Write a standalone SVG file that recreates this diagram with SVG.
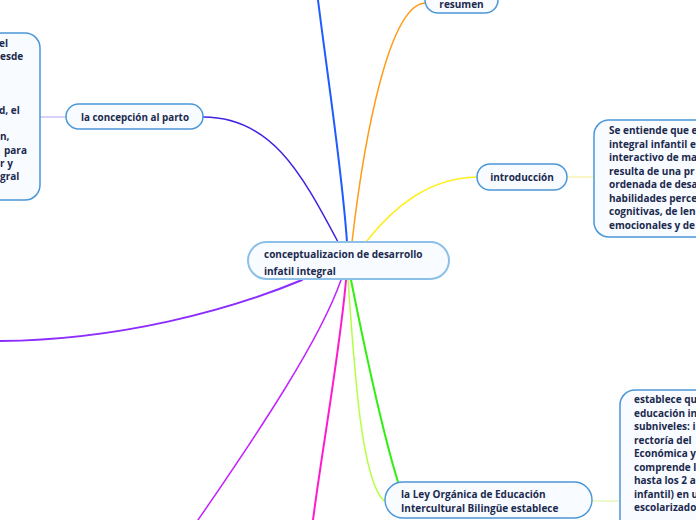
<svg xmlns="http://www.w3.org/2000/svg" width="696" height="520" viewBox="0 0 696 520">
<style>
.node{fill:#f8fbff;stroke:#4b97d6;stroke-width:1.5}
.main{fill:#f8fbff;stroke:#8cc0e8;stroke-width:2}
.t{font-family:"Open Sans","Noto Sans",sans-serif;font-weight:bold;font-size:10px;fill:#1b2a4e}
.c{fill:none;stroke-linecap:round}
</style>
<rect width="696" height="520" fill="#ffffff"/>
<g id="connectors">
<path class="c" d="M347,242 C342,170 328,80 318,0" stroke="#1f5cff" stroke-width="2"/>
<path class="c" d="M352,242 C365,130 390,5 425,3" stroke="#ff9c1a" stroke-width="1.5"/>
<path class="c" d="M366,242 C395,205 430,178 477,177" stroke="#ffee22" stroke-width="1.5"/>
<path class="c" d="M338,242 C300,170 270,117 203,117" stroke="#3d24e0" stroke-width="1.5"/>
<path class="c" d="M302,280 C230,310 120,340 0,341" stroke="#8c2cff" stroke-width="2"/>
<path class="c" d="M341,280 C320,340 260,430 198,520" stroke="#c222ff" stroke-width="1.5"/>
<path class="c" d="M346,280 C340,350 322,450 313,520" stroke="#ff1ad0" stroke-width="2"/>
<path class="c" d="M351,280 C365,350 385,440 398,482" stroke="#33ee11" stroke-width="2"/>
<path class="c" d="M348,280 C355,380 362,480 384,501" stroke="#b4ff44" stroke-width="1.5"/>
<path class="c" d="M40,117 L66,117" stroke="#b3a2f0" stroke-width="1"/>
<path class="c" d="M567,177 L594,177" stroke="#f3ef8a" stroke-width="1"/>
<path class="c" d="M592,501 L620,501" stroke="#d6f59a" stroke-width="1"/>
</g>
<g id="left-box">
<rect class="node" x="-200" y="33" width="240" height="167" rx="15"/>
<text class="t">
<tspan x="-1" y="47">el</tspan>
<tspan x="0" y="60.3">esde</tspan>
<tspan x="-1" y="113.6">d, el</tspan>
<tspan x="0" y="140.3">n,</tspan>
<tspan x="4" y="153.6">para</tspan>
<tspan x="0" y="167">r y</tspan>
<tspan x="0" y="180.3">gral</tspan>
</text>
</g>
<g id="concepcion">
<rect class="node" x="66" y="104" width="137" height="25" rx="12.5"/>
<text class="t" x="81" y="121" textLength="108" lengthAdjust="spacingAndGlyphs">la concepción al parto</text>
</g>
<g id="center">
<rect class="main" x="248" y="242" width="201" height="37" rx="18.5"/>
<text class="t"><tspan x="264" y="258">conceptualizacion de desarrollo</tspan><tspan x="264" y="275">infatil integral</tspan></text>
</g>
<g id="resumen">
<rect class="node" x="425" y="-14" width="73" height="27" rx="13"/>
<text class="t" x="461.5" y="8" text-anchor="middle">resumen</text>
</g>
<g id="introduccion">
<rect class="node" x="477" y="164" width="90" height="26" rx="13"/>
<text class="t" x="522" y="180.5" text-anchor="middle">introducción</text>
</g>
<g id="intro-box">
<rect class="node" x="594" y="120" width="300" height="117" rx="15"/>
<text class="t">
<tspan x="609" y="134">Se entiende que e</tspan>
<tspan x="609" y="147.5">integral infantil e</tspan>
<tspan x="609" y="161">interactivo de ma</tspan>
<tspan x="609" y="174.5">resulta de una pr</tspan>
<tspan x="609" y="188">ordenada de desa</tspan>
<tspan x="609" y="201.5">habilidades perce</tspan>
<tspan x="609" y="215">cognitivas, de len</tspan>
<tspan x="609" y="228.5">emocionales y de</tspan>
</text>
</g>
<g id="ley">
<rect class="node" x="385" y="482" width="207" height="36" rx="18"/>
<text class="t"><tspan x="401" y="498">la Ley Orgánica de Educación</tspan><tspan x="401" y="512">Intercultural Bilingüe establece</tspan></text>
</g>
<g id="ley-box">
<rect class="node" x="620" y="390" width="300" height="200" rx="15"/>
<text class="t">
<tspan x="634" y="403">establece qu</tspan>
<tspan x="634" y="416.5">educación in</tspan>
<tspan x="634" y="430">subniveles: i</tspan>
<tspan x="634" y="443.5">rectoría del</tspan>
<tspan x="634" y="457">Económica y</tspan>
<tspan x="634" y="470.5">comprende l</tspan>
<tspan x="634" y="484">hasta los 2 a</tspan>
<tspan x="634" y="497.5">infantil) en u</tspan>
<tspan x="634" y="511">escolarizado</tspan>
</text>
</g>
</svg>
